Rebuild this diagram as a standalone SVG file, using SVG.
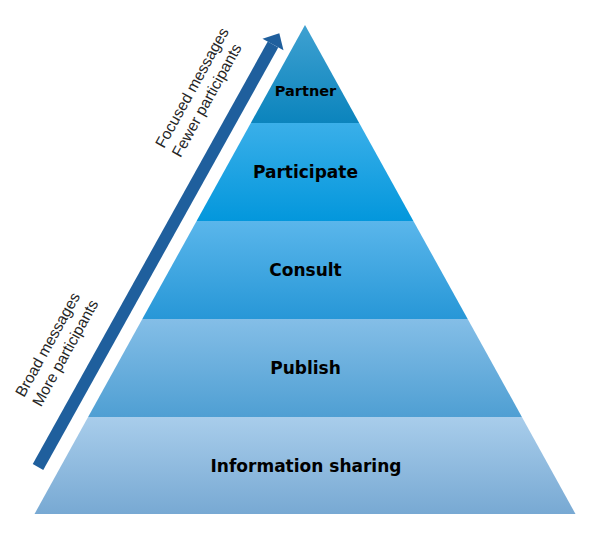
<svg xmlns="http://www.w3.org/2000/svg" width="592" height="542" viewBox="0 0 592 542">
  <style>
    .lbl { font-family: "DejaVu Sans", "Liberation Sans", sans-serif; font-weight: bold; font-size: 17px; fill: #000; text-anchor: middle; }
    .side { font-family: "Liberation Sans", Arial, sans-serif; font-size: 15.5px; fill: #262626; }
  </style>
  <defs>
    <linearGradient id="g1" x1="0" y1="0" x2="0" y2="1">
      <stop offset="0" stop-color="#3fa1d1"/>
      <stop offset="1" stop-color="#0b84bd"/>
    </linearGradient>
    <linearGradient id="g2" x1="0" y1="0" x2="0" y2="1">
      <stop offset="0" stop-color="#3aafe9"/>
      <stop offset="1" stop-color="#0397dc"/>
    </linearGradient>
    <linearGradient id="g3" x1="0" y1="0" x2="0" y2="1">
      <stop offset="0" stop-color="#5ab6eb"/>
      <stop offset="1" stop-color="#2797d7"/>
    </linearGradient>
    <linearGradient id="g4" x1="0" y1="0" x2="0" y2="1">
      <stop offset="0" stop-color="#84bee7"/>
      <stop offset="1" stop-color="#4f9fd3"/>
    </linearGradient>
    <linearGradient id="g5" x1="0" y1="0" x2="0" y2="1">
      <stop offset="0" stop-color="#a8cdeb"/>
      <stop offset="1" stop-color="#78a9d3"/>
    </linearGradient>
    <marker id="head" markerUnits="userSpaceOnUse" markerWidth="30" markerHeight="30" refX="0" refY="0" viewBox="-2 -15 20 30" orient="auto" overflow="visible">
      <path d="M0,-12 L13,0 L0,12 Z" fill="#1f5f9d"/>
    </marker>
  </defs>

  <g id="connectors">
    <line x1="38" y1="467" x2="273" y2="44.5" stroke="#1f5f9d" stroke-width="12" marker-end="url(#head)"/>
  </g>

  <g id="partner">
    <polygon points="305,25 359.2,123 250.8,123" fill="url(#g1)"/>
    <text class="lbl" x="305.5" y="96" style="font-size:14.5px">Partner</text>
  </g>
  <g id="participate">
    <polygon points="250.8,123 359.2,123 413.4,221 196.6,221" fill="url(#g2)"/>
    <text class="lbl" x="305.5" y="178">Participate</text>
  </g>
  <g id="consult">
    <polygon points="196.6,221 413.4,221 467.7,319 142.3,319" fill="url(#g3)"/>
    <text class="lbl" x="305.5" y="275.5">Consult</text>
  </g>
  <g id="publish">
    <polygon points="142.3,319 467.7,319 521.9,417 88.1,417" fill="url(#g4)"/>
    <text class="lbl" x="305.5" y="374">Publish</text>
  </g>
  <g id="information-sharing">
    <polygon points="88.1,417 521.9,417 575.5,514 34.5,514" fill="url(#g5)"/>
    <text class="lbl" x="306" y="471.5">Information sharing</text>
  </g>

  <g id="label-focused">
    <text class="side" transform="translate(164,149) rotate(-61)"><tspan x="0" y="0">Focused messages</tspan><tspan x="0" y="19">Fewer participants</tspan></text>
  </g>
  <g id="label-broad">
    <text class="side" transform="translate(24,398) rotate(-61)"><tspan x="0" y="0">Broad messages</tspan><tspan x="0" y="19.5">More participants</tspan></text>
  </g>
</svg>
